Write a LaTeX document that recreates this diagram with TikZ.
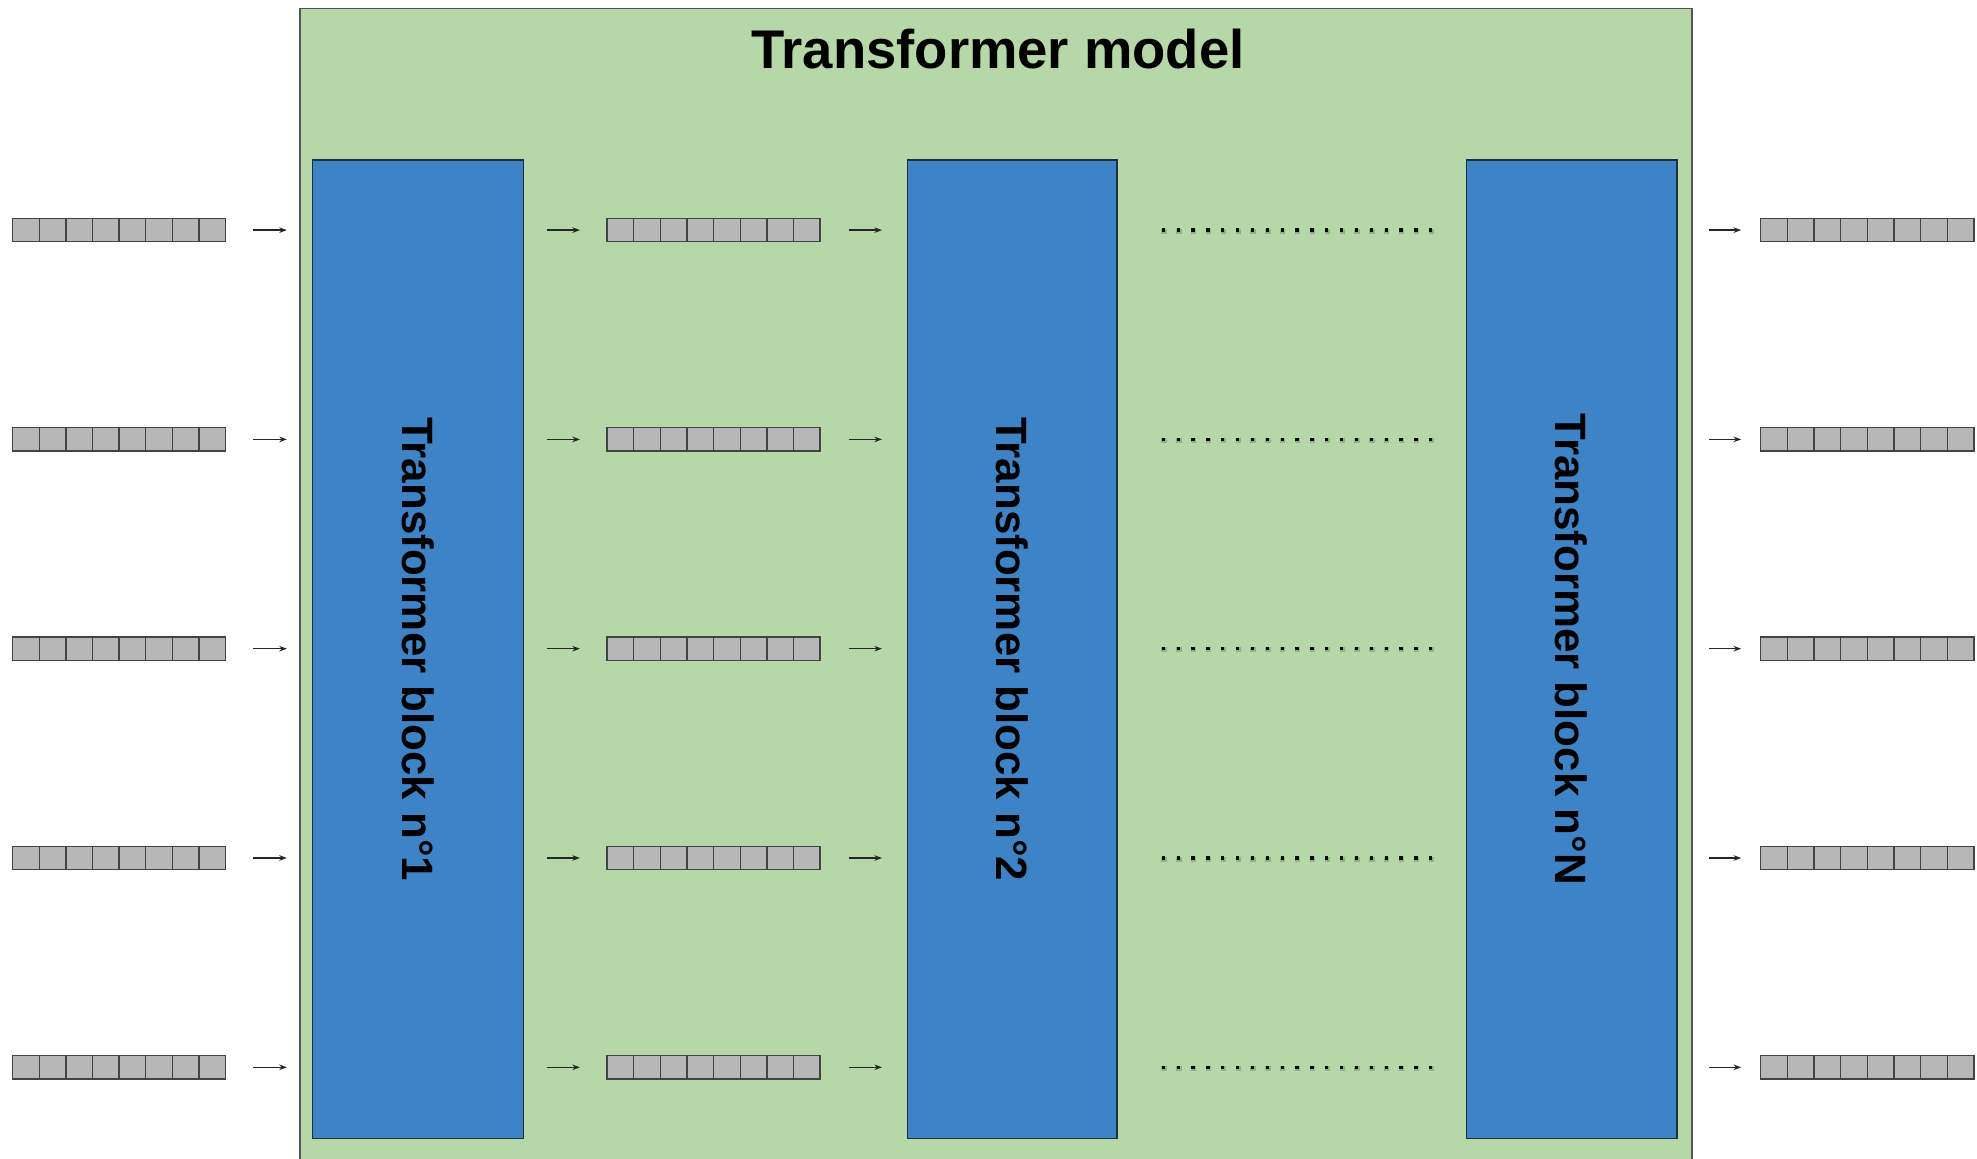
\documentclass[tikz,border=0pt]{standalone}
\usepackage{fontspec}
\setmainfont{Liberation Sans}
\usetikzlibrary{arrows.meta}
\definecolor{modelgreen}{HTML}{B6D7A8}
\definecolor{modeledge}{HTML}{555555}
\definecolor{blockblue}{HTML}{3D83C6}
\definecolor{blockedge}{HTML}{1B2F45}
\definecolor{cellgray}{HTML}{B7B7B7}
\definecolor{celledge}{HTML}{434343}

\tikzset{
  modelbox/.style={draw=modeledge, fill=modelgreen, line width=0.5pt,
    minimum width=552pt, minimum height=464pt, inner sep=0pt},
  tblock/.style={draw=blockedge, fill=blockblue, line width=0.5pt,
    minimum width=83.5pt, minimum height=388pt, inner sep=0pt},
  tlabel/.style={rotate=-90, font=\fontsize{17.4pt}{20pt}\selectfont\bfseries, inner sep=0pt},
  vec/.style={draw=celledge, fill=cellgray, line width=0.55pt,
    minimum width=84.5pt, minimum height=9.25pt, inner sep=0pt,
    path picture={
      \foreach \k in {1,...,7}
        \draw[celledge, line width=0.55pt]
          ([xshift=\k*10.5625pt]path picture bounding box.south west) --
          ([xshift=\k*10.5625pt]path picture bounding box.north west);
    }},
  arr/.style={draw=black!85, line width=0.5pt, -{Stealth[length=3pt,width=2.2pt]}},
}

\begin{document}
\begin{tikzpicture}[x=0.5pt, y=-0.5pt]
  % page frame
  \fill[white] (0,0) rectangle (1568,919);
  \useasboundingbox (0,0) rectangle (1568,919);
  \clip (0,0) rectangle (1568,919);

  % the model container
  \node[modelbox] (model) at (790,471) {};
  \node[anchor=base, font=\fontsize{21.6pt}{24pt}\selectfont\bfseries] (title)
    at (791.5,54) {Transformer model};

  % transformer blocks
  \node[tblock] (b1) at (331.5,515) {};
  \node[tblock, minimum width=83pt] (b2) at (803,515) {};
  \node[tblock] (bN) at (1246.5,515) {};
  \node[tlabel] (l1) at (b1.center) {Transformer block n°1};
  \node[tlabel] (l2) at (b2.center) {Transformer block n°2};
  \node[tlabel] (lN) at (bN.center) {Transformer block n°N};

  % token vectors and the arrows between stages
  \foreach \r in {1,...,5} {
    \pgfmathsetmacro{\yy}{182.5+166*(\r-1)}
    \node[vec] (in\r)  at (94.5,\yy) {};
    \node[vec] (mid\r) at (566,\yy) {};
    \node[vec] (out\r) at (1481,\yy) {};

    \draw[arr, shorten <=10.5pt, shorten >=10pt] (in\r.east) -- (in\r.east -| b1.west);
    \draw[arr, shorten <=9pt, shorten >=10.5pt] (b1.east |- mid\r.west) -- (mid\r.west);
    \draw[arr, shorten <=11pt, shorten >=10pt] (mid\r.east) -- (mid\r.east -| b2.west);
    \draw[arr, shorten <=12.5pt, shorten >=7.5pt] (bN.east |- out\r.west) -- (out\r.west);

    % elided intermediate blocks
    \foreach \d in {0,...,18} {
      \pgfmathsetmacro{\xx}{922.7+11.78*\d}
      \fill[black, opacity=0.18] (\xx-1.6,\yy-1.0) rectangle (\xx+2.6,\yy+3.0);
      \fill[black] (\xx-1.3,\yy-1.3) rectangle (\xx+1.3,\yy+1.3);
    }
  }
\end{tikzpicture}
\end{document}
